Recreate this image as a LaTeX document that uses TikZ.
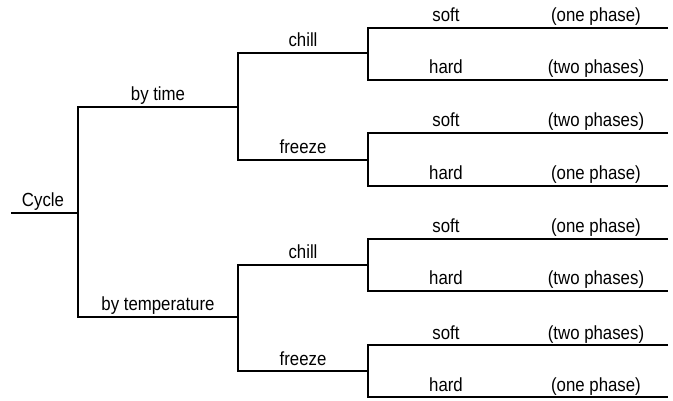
\documentclass[tikz,border=0pt]{standalone}
\usepackage{fontspec}
\setmainfont{Liberation Sans}[FakeStretch=0.885]
\begin{document}
\begin{tikzpicture}[x=1pt,y=-1pt,
  edge/.style={line width=2.2pt, line join=miter},
  lbl/.style={anchor=base, inner sep=0pt, font=\fontsize{19}{21}\selectfont}]
\useasboundingbox[fill=white] (0,0) rectangle (673,401);
% junction coordinates
\coordinate (c0) at (11,213);
\coordinate (c1) at (78,213);
\coordinate (t0) at (78,107);
\coordinate (t1) at (238,107);
\coordinate (p0) at (78,317);
\coordinate (p1) at (238,317);
\coordinate (tc0) at (238,53);  \coordinate (tc1) at (368,53);
\coordinate (tf0) at (238,160); \coordinate (tf1) at (368,160);
\coordinate (pc0) at (238,265); \coordinate (pc1) at (368,265);
\coordinate (pf0) at (238,371); \coordinate (pf1) at (368,371);
\foreach \n/\y in {1/28,2/80,3/133,4/186,5/239,6/291,7/345,8/397}{
  \coordinate (l\n a) at (368,\y);
  \coordinate (l\n b) at (668,\y);
}
% connectors
\draw[edge] (c0) -- (c1);
\draw[edge] (t1) -- (t0) -- (p0) -- (p1);
\draw[edge] (tc1) -- (tc0) -- (tf0) -- (tf1);
\draw[edge] (pc1) -- (pc0) -- (pf0) -- (pf1);
\draw[edge] (l1b) -- (l1a) -- (l2a) -- (l2b);
\draw[edge] (l3b) -- (l3a) -- (l4a) -- (l4b);
\draw[edge] (l5b) -- (l5a) -- (l6a) -- (l6b);
\draw[edge] (l7b) -- (l7a) -- (l8a) -- (l8b);
% labels
\node[lbl] (cyc) at (43,207) {Cycle};
\node[lbl] (byt) at (158,101) {by time};
\node[lbl] (byp) at (158,311) {by temperature};
\node[lbl] (ch1) at (303,47) {chill};
\node[lbl] (fr1) at (303,154) {freeze};
\node[lbl] (ch2) at (303,259) {chill};
\node[lbl] (fr2) at (303,365) {freeze};
\foreach \n/\y/\a/\b in {1/28/soft/(one phase),2/80/hard/(two phases),3/133/soft/(two phases),4/186/hard/(one phase),5/239/soft/(one phase),6/291/hard/(two phases),7/345/soft/(two phases),8/397/hard/(one phase)}{
  \node[lbl] (k\n) at (446,\y-6) {\a};
  \node[lbl] (q\n) at (596,\y-6) {\b};
}
\end{tikzpicture}
\end{document}
